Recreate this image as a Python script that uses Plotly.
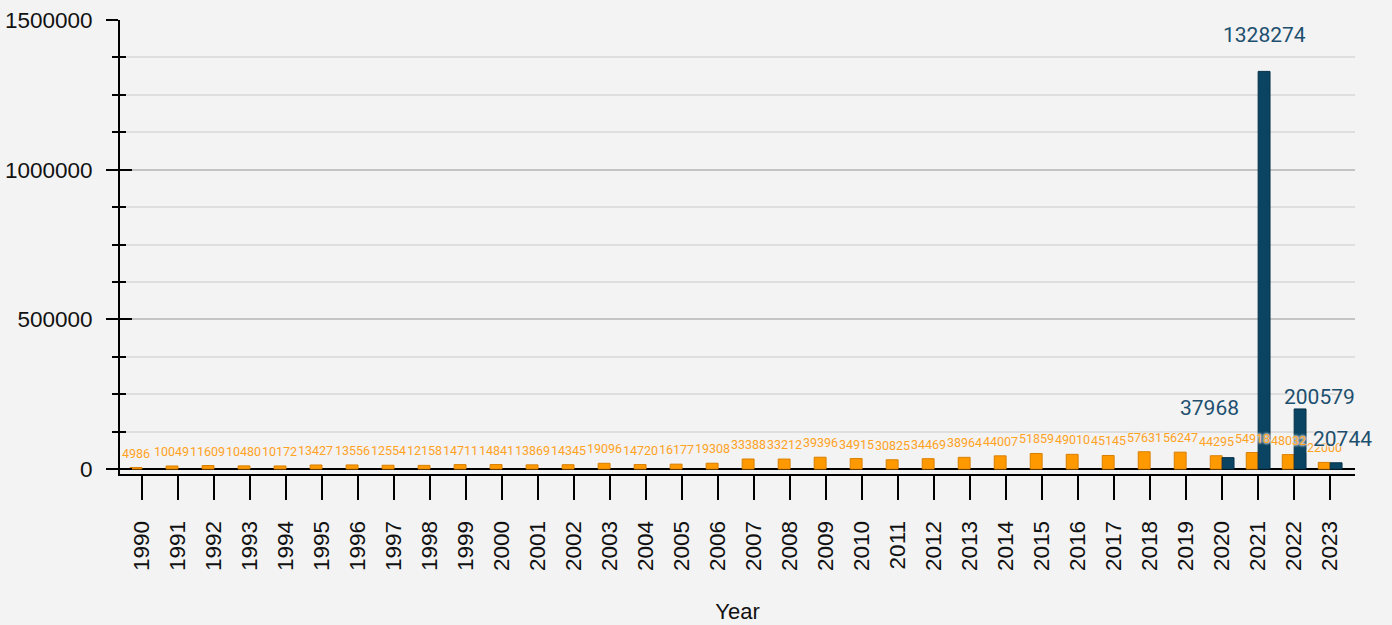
import plotly.graph_objects as go

years = [str(y) for y in range(1990, 2024)]
series_a = [4986, 10049, 11609, 10480, 10172, 13427, 13556, 12554, 12158, 14711,
            14841, 13869, 14345, 19096, 14720, 16177, 19308, 33388, 33212, 39396,
            34915, 30825, 34469, 38964, 44007, 51859, 49010, 45145, 57631, 56247,
            44295, 54918, 48032, 22000]
series_b = [None] * 30 + [37968, 1328274, 200579, 20744]

y_ticks = [0, 500000, 1000000, 1500000]

# label placement nudges (pixels) for series B labels, to mimic the collision layout
b_label_nudge = {30: (-19, 36), 31: (0, 22), 32: (19, -2), 33: (6, 10)}

BG = "#f3f3f3"
halo = f"0 0 2px {BG}, 0 0 3px {BG}, 0 0 3px {BG}"
BAR_A = "#ff9900"
BAR_B = "#0b4462"
TXT_A = "#ffa21f"
TXT_B = "#1d4f6e"

fig = go.Figure()
fig.add_trace(go.Bar(
    x=years, y=series_a, name="A",
    marker=dict(color=BAR_A, line=dict(color="#d97f00", width=1)),
))
fig.add_trace(go.Bar(
    x=years, y=series_b, name="B",
    marker=dict(color=BAR_B, line=dict(color="#06324a", width=1)),
))

annotations = []
for i, v in enumerate(series_a):
    annotations.append(dict(
        x=i, y=v, xref="x", yref="y", text=str(v), showarrow=False,
        yanchor="bottom", xanchor="center", xshift=-6, yshift=5,
        font=dict(family="Roboto", size=12.5, color=TXT_A, shadow=halo),
    ))
for i, v in enumerate(series_b):
    if v is None:
        continue
    dx, dy = b_label_nudge.get(i, (0, 10))
    annotations.append(dict(
        x=i, y=v, xref="x", yref="y", text=str(v), showarrow=False,
        yanchor="bottom", xanchor="center", xshift=6 + dx, yshift=dy,
        font=dict(family="Roboto", size=21, color=TXT_B, shadow=halo),
    ))

fig.update_layout(
    width=1392, height=625,
    paper_bgcolor=BG, plot_bgcolor=BG,
    margin=dict(l=120, r=37, t=20, b=151, autoexpand=False),
    barmode="group", bargap=0.34, bargroupgap=0,
    showlegend=False,
    font=dict(family="Liberation Sans, Arial", color="#111"),
    annotations=annotations,
    xaxis=dict(
        type="category", range=[-0.61, 33.69], automargin=False,
        showline=True, linecolor="#000", linewidth=2,
        ticks="outside", ticklen=24, tickwidth=2, tickcolor="#000",
        tickangle=-90, tickfont=dict(size=22.5, color="#111"),
        ticklabelstandoff=12,
        title=dict(text="Year", font=dict(size=22, color="#111"), standoff=34),
        showgrid=False,
    ),
    yaxis=dict(
        range=[-16700, 1500000], automargin=False,
        tickvals=y_ticks, ticktext=[str(v) for v in y_ticks],
        showline=True, linecolor="#000", linewidth=2,
        ticks="outside", ticklen=12, tickwidth=2, tickcolor="#000",
        tickfont=dict(size=22.5, color="#111"),
        ticklabelstandoff=9,
        showgrid=True, gridcolor="#c4c4c4", gridwidth=1.5,
        zeroline=True, zerolinecolor="#000", zerolinewidth=2,
        minor=dict(dtick=125000, tick0=0, ticks="outside", ticklen=6, tickwidth=2,
                   tickcolor="#000", showgrid=True, gridcolor="#dedede", gridwidth=1.5),
    ),
    yaxis2=dict(
        overlaying="y", side="left", range=[-16700, 1500000], automargin=False,
        tickvals=y_ticks, showticklabels=False,
        ticks="inside", ticklen=12, tickwidth=2, tickcolor="#000",
        showgrid=False, zeroline=False, showline=False,
        minor=dict(dtick=125000, tick0=0, ticks="inside", ticklen=6, tickwidth=2,
                   tickcolor="#000", showgrid=False),
    ),
)
fig.add_trace(go.Scatter(x=[years[0]], y=[None], yaxis="y2", showlegend=False, hoverinfo="skip"))

fig.write_html("out.html", config={"displayModeBar": False},
               post_script="document.body.style.margin='0';document.documentElement.style.overflow='hidden';")
